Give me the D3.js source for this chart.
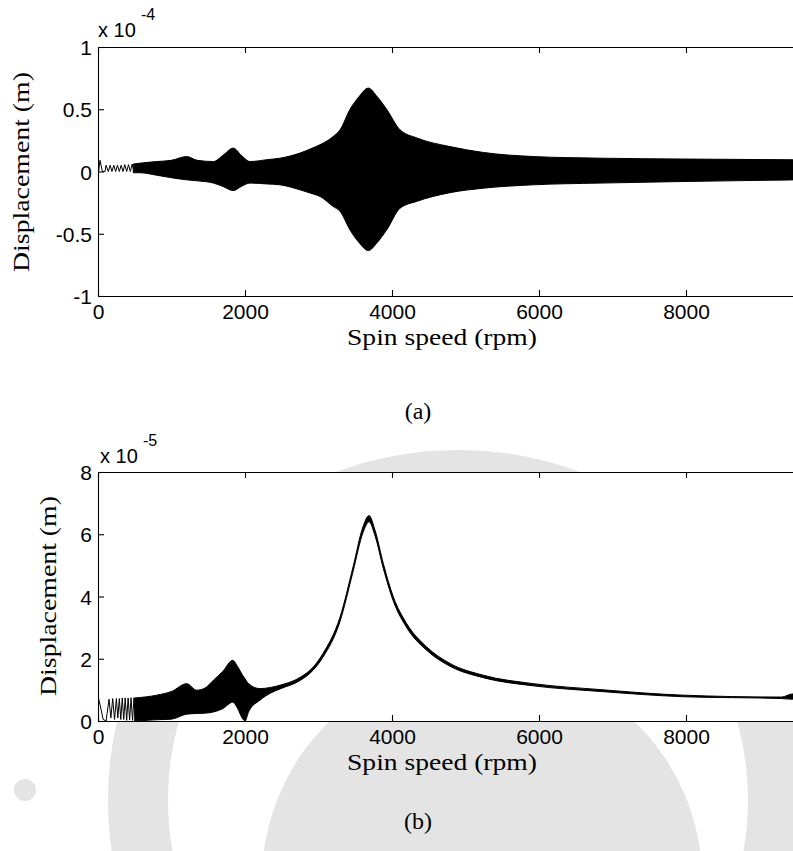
<!DOCTYPE html>
<html><head><meta charset="utf-8">
<script src="https://cdn.jsdelivr.net/npm/d3@7"></script>
<style>
html,body{margin:0;padding:0;background:#fff;}
svg{display:block;}
</style></head>
<body>
<svg id="c" width="793" height="851"></svg>
<script>
// ---------- DATA ----------
// x-axis ticks (rpm)
const xTicks = [0, 2000, 4000, 6000, 8000];
const xTickLabels = ["0", "2000", "4000", "6000", "8000"];
// (a) y ticks, units of 1e-4 m
const yTicksA = [-1, -0.5, 0, 0.5, 1];
const yTickLabelsA = ["-1", "-0.5", "0", "0.5", "1"];
// (b) y ticks, units of 1e-5 m
const yTicksB = [0, 2, 4, 6, 8];
const yTickLabelsB = ["0", "2", "4", "6", "8"];

// (a) early thin oscillation (rpm, x1e-4 m)
const earlySpeedA = [0, 2, 8, 27, 60, 95, 110, 140, 165, 190, 215, 240, 265, 290, 315, 340, 365, 390, 415, 440, 465, 490];
const earlyValueA = [0, 0.12, 0.0, 0.09, 0.0, 0.0, 0.05, 0.0, 0.05, 0.0, 0.05, 0.0, 0.05, 0.0, 0.05, 0.0, 0.055, 0.0, 0.055, 0.0, 0.06, 0.0];
// (a) envelope of the dense oscillation (rpm, x1e-4 m)
const speedA = [480, 571, 800, 1000, 1207, 1350, 1570, 1700, 1840, 1950, 2068, 2300, 2476, 2748, 2925, 3020, 3197, 3293, 3429, 3550, 3678, 3800, 3927, 4109, 4336, 4789, 5243, 5923, 6830, 8000, 9500];
const upperA = [0.06, 0.067, 0.08, 0.09, 0.12, 0.09, 0.08, 0.13, 0.188, 0.13, 0.08, 0.095, 0.107, 0.148, 0.19, 0.215, 0.28, 0.335, 0.5, 0.6, 0.67, 0.6, 0.5, 0.335, 0.27, 0.2, 0.153, 0.12, 0.107, 0.1, 0.094];
const lowerA = [-0.01, -0.01, -0.03, -0.05, -0.067, -0.075, -0.093, -0.12, -0.153, -0.12, -0.093, -0.1, -0.107, -0.147, -0.18, -0.2, -0.28, -0.32, -0.47, -0.57, -0.635, -0.57, -0.47, -0.295, -0.24, -0.17, -0.134, -0.107, -0.093, -0.08, -0.067];

// (b) early thin oscillation (rpm, x1e-5 m)
const earlySpeedB = [0, 30, 70, 110, 150, 175, 200, 225, 250, 270, 290, 310, 330, 350, 370, 390, 410, 430, 450, 470, 490, 510];
const earlyValueB = [0.8, 0.5, 0.05, 0.0, 0.7, 0.1, 0.72, 0.05, 0.72, 0.1, 0.72, 0.05, 0.74, 0.05, 0.74, 0.02, 0.74, 0.03, 0.75, 0.02, 0.75, 0.0];
// (b) envelope (rpm, x1e-5 m)
const speedB = [500, 800, 1000, 1207, 1343, 1450, 1570, 1700, 1832, 1900, 1960, 2000, 2050, 2204, 2350, 2476, 2748, 2930, 3061, 3293, 3470, 3605, 3687, 3769, 3882, 4018, 4200, 4472, 4789, 5243, 5923, 6830, 7960, 9300, 9450, 9500];
const upperB = [0.74, 0.83, 0.95, 1.2, 0.99, 1.05, 1.31, 1.6, 1.95, 1.75, 1.5, 1.36, 1.2, 1.04, 1.08, 1.15, 1.4, 1.74, 2.17, 3.34, 4.95, 6.24, 6.6, 6.13, 5.06, 3.99, 3.13, 2.38, 1.85, 1.47, 1.2, 1.01, 0.83, 0.77, 0.87, 0.87];
const lowerB = [0.0, 0.04, 0.06, 0.22, 0.24, 0.25, 0.29, 0.4, 0.6, 0.4, 0.1, 0.0, 0.3, 0.67, 0.9, 1.03, 1.3, 1.64, 2.05, 3.2, 4.8, 6.05, 6.4, 5.95, 4.9, 3.85, 3.0, 2.27, 1.76, 1.39, 1.13, 0.95, 0.78, 0.72, 0.7, 0.7];

// ---------- DRAW ----------
const SANS = '"Liberation Sans", Arial, Helvetica, sans-serif';
const SERIF = '"Times New Roman", "Liberation Serif", Tinos, Times, serif';
const svg = d3.select("#c");
const W = 793, H = 851;
const wm = "#e4e4e4";

// watermark (institution logo, light grey)
const wmG = svg.append("g");
wmG.append("circle").attr("cx", 458).attr("cy", 800).attr("r", 320)
  .attr("fill", "none").attr("stroke", wm).attr("stroke-width", 60);
wmG.append("circle").attr("cx", 482).attr("cy", 880).attr("r", 220).attr("fill", wm);
wmG.append("circle").attr("cx", 25).attr("cy", 790).attr("r", 11).attr("fill", wm);

const x = d3.scaleLinear().domain([0, 10000]).range([98, 833]);

function panel(opt) {
  const { top, bottom, yDomain, yTicks, yLabels, id } = opt;
  const y = d3.scaleLinear().domain(yDomain).range([bottom, top]);
  const g = svg.append("g");
  g.append("rect").attr("x", 98).attr("y", top).attr("width", W - 98).attr("height", bottom - top).attr("fill", "#fff");
  g.append("clipPath").attr("id", id).append("rect")
    .attr("x", 98).attr("y", top).attr("width", W - 98).attr("height", bottom - top);
  const data = g.append("g").attr("clip-path", `url(#${id})`);

  const area = d3.area().x(d => x(d[0])).y0(d => y(d[2])).y1(d => y(d[1])).curve(d3.curveMonotoneX);
  const env = opt.speed.map((s, i) => [s, opt.upper[i], opt.lower[i]]);
  data.append("path").datum(env).attr("d", area).attr("fill", "#000")
    .attr("stroke", "#000").attr("stroke-width", 1);
  const line = d3.line().x(d => x(d[0])).y(d => y(d[1]));
  const early = opt.earlySpeed.map((s, i) => [s, opt.earlyValue[i]]);
  data.append("path").datum(early).attr("d", line).attr("fill", "none")
    .attr("stroke", "#000").attr("stroke-width", 1);

  // axes
  const fmtX = d => xTickLabels[xTicks.indexOf(d)];
  const fmtY = d => yLabels[yTicks.indexOf(d)];
  const ax = g.append("g").attr("transform", `translate(0,${bottom})`)
    .call(d3.axisBottom(x).tickValues(xTicks).tickFormat(fmtX).tickSize(-6).tickSizeOuter(0).tickPadding(8));
  const axT = g.append("g").attr("transform", `translate(0,${top})`)
    .call(d3.axisTop(x).tickValues(xTicks).tickFormat("").tickSize(-6).tickSizeOuter(0));
  const ay = g.append("g").attr("transform", `translate(98,0)`)
    .call(d3.axisLeft(y).tickValues(yTicks).tickFormat(fmtY).tickSize(-6).tickSizeOuter(0).tickPadding(6));
  [ax, axT, ay].forEach(a => {
    a.selectAll("path,line").attr("stroke", "#000").attr("stroke-width", 1.1);
    a.selectAll("text").attr("fill", "#000").attr("font-size", 21).attr("font-family", SANS);
  });
  ay.selectAll("text").attr("dy", "0.36em");
  return y;
}

panel({ id: "clipA", top: 47, bottom: 296, yDomain: [-1, 1], yTicks: yTicksA, yLabels: yTickLabelsA,
  speed: speedA, upper: upperA, lower: lowerA, earlySpeed: earlySpeedA, earlyValue: earlyValueA });
panel({ id: "clipB", top: 472, bottom: 721, yDomain: [0, 8], yTicks: yTicksB, yLabels: yTickLabelsB,
  speed: speedB, upper: upperB, lower: lowerB, earlySpeed: earlySpeedB, earlyValue: earlyValueB });

// exponent labels
function expo(xp, yb, e) {
  svg.append("text").attr("x", xp).attr("y", yb).attr("font-family", SANS).attr("font-size", 20).attr("fill", "#000").text("x 10");
  svg.append("text").attr("x", xp + 43).attr("y", yb - 17).attr("font-family", SANS).attr("font-size", 16).attr("fill", "#000").text(e);
}
expo(98, 37, "-4");
expo(100, 463, "-5");

// axis titles
function ylab(xb, yc) {
  svg.append("text").attr("transform", `translate(${xb},${yc}) rotate(-90)`)
    .attr("text-anchor", "middle").attr("font-family", SERIF).attr("font-size", 24).attr("fill", "#000")
    .attr("textLength", 200).attr("lengthAdjust", "spacingAndGlyphs").text("Displacement (m)");
}
ylab(29, 172);
ylab(56, 596);
function xlab(yb) {
  svg.append("text").attr("x", 442).attr("y", yb).attr("text-anchor", "middle")
    .attr("font-family", SERIF).attr("font-size", 24).attr("fill", "#000")
    .attr("textLength", 190).attr("lengthAdjust", "spacingAndGlyphs").text("Spin speed (rpm)");
}
xlab(345);
xlab(770);
svg.append("text").attr("x", 418).attr("y", 419).attr("text-anchor", "middle")
  .attr("font-family", SERIF).attr("font-size", 24).attr("fill", "#000").text("(a)");
svg.append("text").attr("x", 418).attr("y", 829).attr("text-anchor", "middle")
  .attr("font-family", SERIF).attr("font-size", 24).attr("fill", "#000").text("(b)");
</script>
</body></html>
